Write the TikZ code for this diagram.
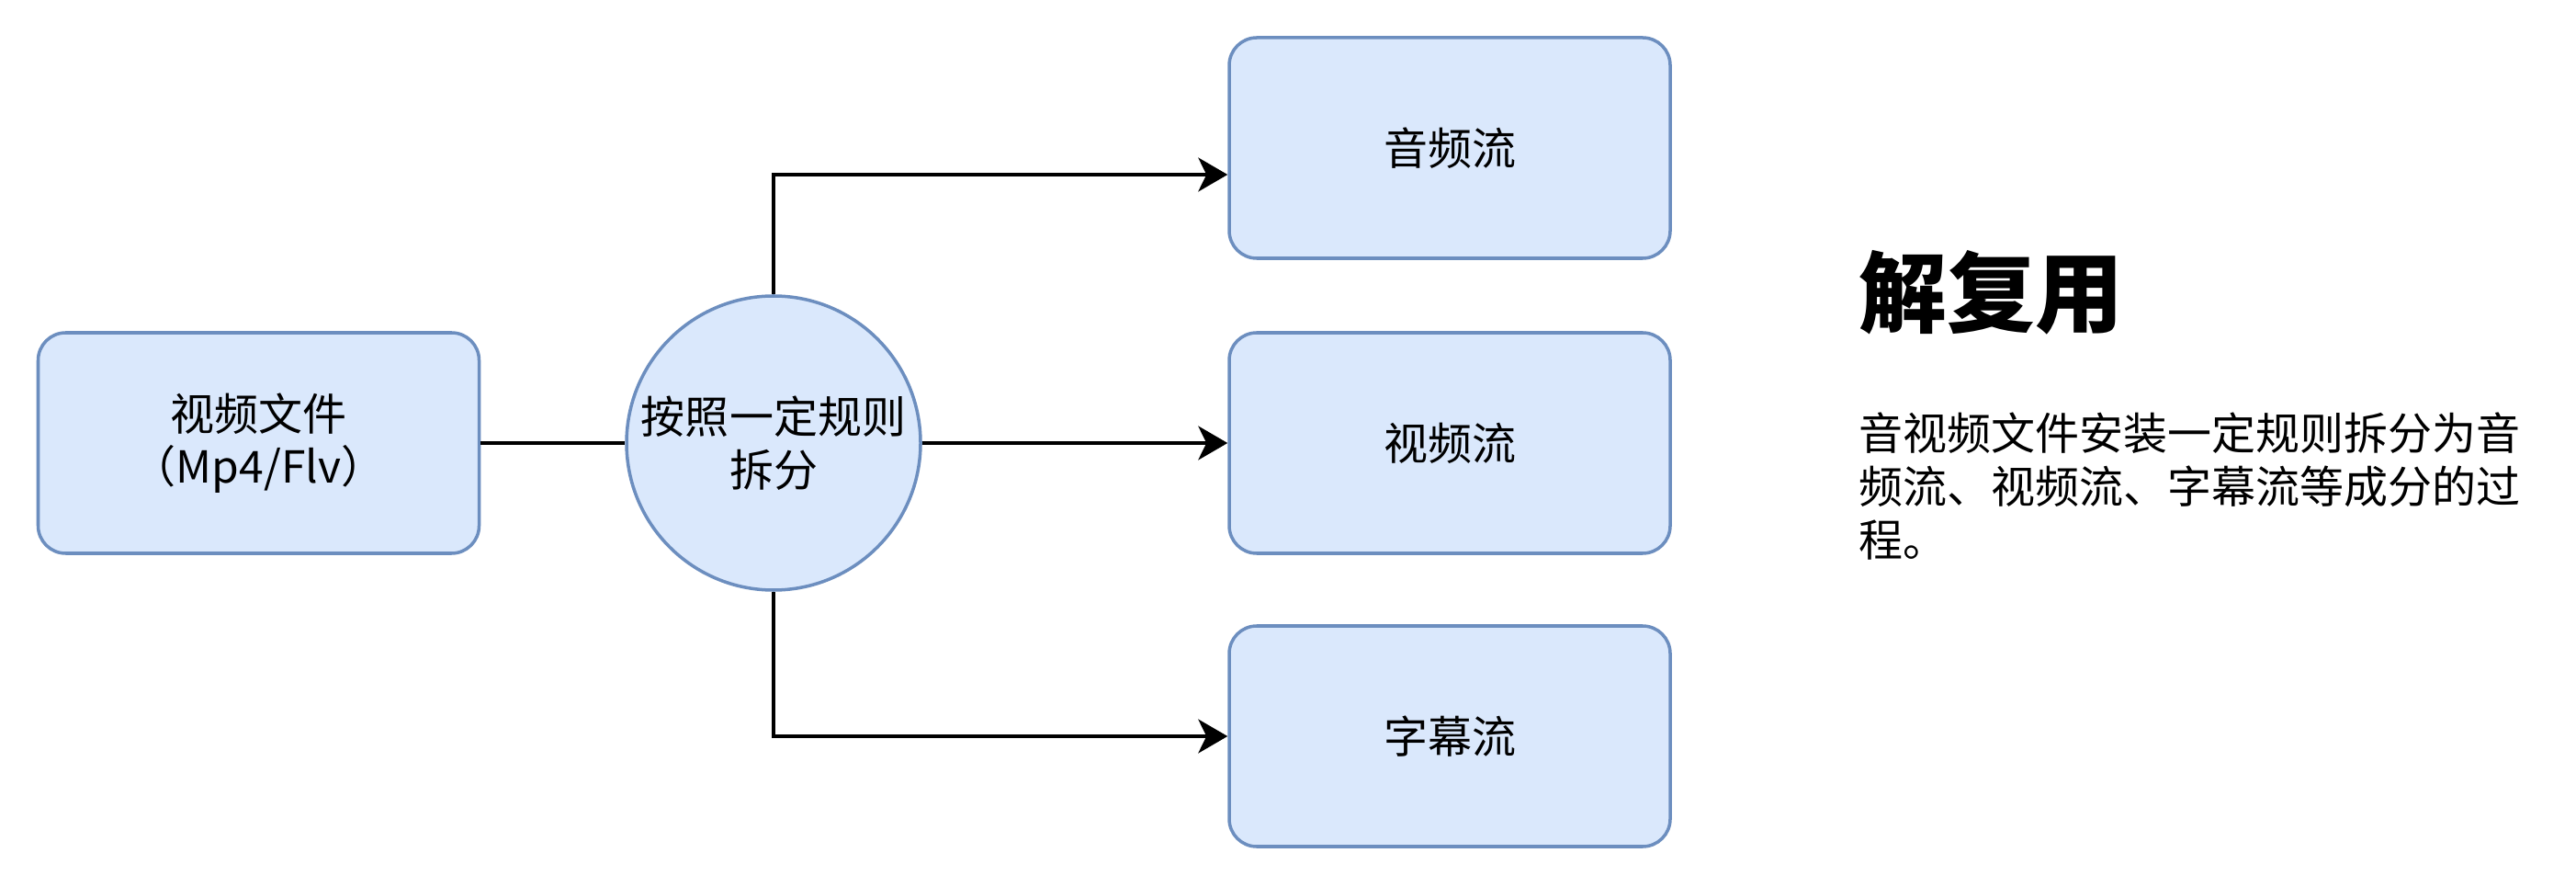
\documentclass[tikz,border=0pt]{standalone}
\usepackage{fontspec}
\setmainfont{Noto Sans CJK SC}
\usetikzlibrary{arrows.meta}
\definecolor{boxfill}{HTML}{DAE8FC}
\definecolor{boxline}{HTML}{6C8EBF}
\begin{document}
\begin{tikzpicture}
    [stream/.style={draw=boxline,fill=boxfill,line width=1pt,rounded corners=0.3cm,minimum width=4.8cm,minimum height=2.4cm,align=center,font=\fontsize{13.66pt}{16.4pt}\selectfont},
    splitter/.style={draw=boxline,fill=boxfill,line width=1pt,circle,minimum size=3.2cm,inner sep=0pt,align=center,font=\fontsize{13.66pt}{16.4pt}\selectfont},
    >={Stealth[length=3.2mm,width=3.7mm,inset=0.9mm]}, line width=0.9pt]
		\useasboundingbox (0,0) rectangle (28.04,9.64);
		\node [stream] (file) at (2.815, 4.82) {视频文件\\（Mp4/Flv）};
		\node [splitter] (split) at (8.42, 4.82) {按照一定规则\\拆分};
		\node [stream] (audio) at (15.78, 8.03) {音频流};
		\node [stream] (video) at (15.78, 4.82) {视频流};
		\node [stream] (subtitle) at (15.78, 1.63) {字幕流};

		\draw (file) -- (split);
		\draw[->] (split.north) |- ([yshift=-2.9mm]audio.west);
		\draw[->] (split) -- (video);
		\draw[->] (split.south) |- (subtitle.west);

		\node [anchor=west,font=\fontsize{27.3pt}{32pt}\selectfont\bfseries,inner sep=0pt] (title) at (20.22, 6.46) {解复用};
		\node [anchor=base west,text width=8cm,align=left,inner sep=0pt,font=\fontsize{13.66pt}{16.4pt}\selectfont] (desc) at (20.22, 4.74) {音视频文件安装一定规则拆分为音\\频流、视频流、字幕流等成分的过\\程。};
    \end{tikzpicture}
\end{document}
